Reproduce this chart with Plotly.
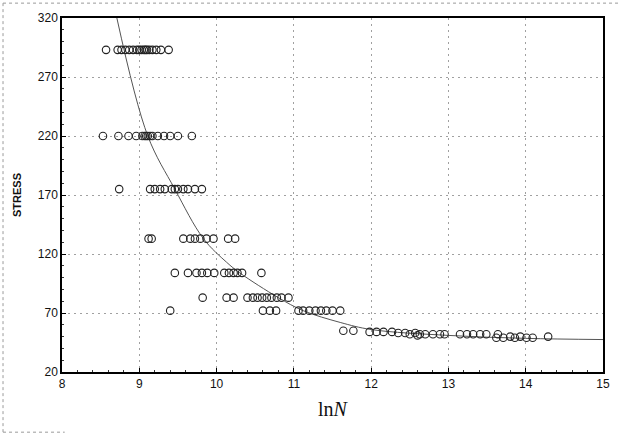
import plotly.graph_objects as go

# ---- data (ln N values grouped by stress level) ----
stress_levels = [293, 220, 175, 133, 104, 83, 72]
ln_n_293 = [8.57, 8.72, 8.77, 8.82, 8.87, 8.92, 8.97, 9.00, 9.03, 9.06, 9.08, 9.10, 9.13, 9.17, 9.22, 9.28, 9.38]
ln_n_220 = [8.53, 8.73, 8.86, 8.96, 9.04, 9.07, 9.09, 9.11, 9.14, 9.17, 9.24, 9.32, 9.40, 9.50, 9.68]
ln_n_175 = [8.74, 9.14, 9.20, 9.27, 9.33, 9.42, 9.46, 9.50, 9.57, 9.63, 9.72, 9.81]
ln_n_133 = [9.12, 9.16, 9.57, 9.66, 9.72, 9.79, 9.87, 9.96, 10.15, 10.24]
ln_n_104 = [9.46, 9.63, 9.74, 9.81, 9.88, 9.97, 10.10, 10.16, 10.22, 10.27, 10.33, 10.58]
ln_n_83 = [9.82, 10.13, 10.22, 10.40, 10.47, 10.53, 10.59, 10.65, 10.71, 10.78, 10.84, 10.93]
ln_n_72 = [9.40, 10.60, 10.69, 10.77, 11.06, 11.12, 11.20, 11.28, 11.35, 11.42, 11.50, 11.60]

# low-stress tail: (ln N, stress) pairs
tail_ln_n = [11.64, 11.77, 11.98, 12.07, 12.16, 12.27, 12.35, 12.44, 12.50, 12.57, 12.60, 12.63,
             12.70, 12.80, 12.89, 12.95, 13.15, 13.24, 13.32, 13.41, 13.49, 13.64, 13.62, 13.71,
             13.80, 13.86, 13.93, 14.01, 14.09, 14.29]
tail_stress = [55, 55, 54, 54, 54, 54, 53, 53, 52, 53, 51, 52,
               52, 52, 52, 52, 52, 52, 52, 52, 52, 52, 49, 49,
               50, 49, 50, 49, 49, 50]

# fitted curve, points
curve_ln_n = [8.71, 9.11, 9.46, 9.83, 10.13, 10.30, 10.80, 11.12, 11.60, 12.0, 13.0, 14.0, 15.0]
curve_stress = [320, 220, 175, 133, 113, 104, 83, 72, 62, 56, 51, 48.5, 47.5]

x_ticks = [8, 9, 10, 11, 12, 13, 14, 15]
y_ticks = [20, 70, 120, 170, 220, 270, 320]

# ---- assemble ----
rows = [ln_n_293, ln_n_220, ln_n_175, ln_n_133, ln_n_104, ln_n_83, ln_n_72]
xs, ys = [], []
for lvl, row in zip(stress_levels, rows):
    xs.extend(row)
    ys.extend([lvl] * len(row))
xs.extend(tail_ln_n)
ys.extend(tail_stress)

fig = go.Figure()
fig.add_trace(go.Scatter(
    x=curve_ln_n, y=curve_stress, mode="lines",
    line=dict(color="#555555", width=1, shape="spline", smoothing=1.0),
    hoverinfo="skip", showlegend=False))
fig.add_trace(go.Scatter(
    x=xs, y=ys, mode="markers",
    marker=dict(symbol="circle-open", size=7.5, color="#222222", line=dict(width=1.1, color="#222222")),
    showlegend=False))

tick_font = dict(family="Liberation Sans Narrow, Liberation Sans, Arial", size=12, color="#111111")
grid_dash = "2px,4px"

fig.update_xaxes(
    range=[8, 15], tickvals=x_ticks, ticktext=[str(v) for v in x_ticks],
    showgrid=True, gridcolor="#a0a0a0", griddash=grid_dash, gridwidth=1,
    showline=True, linecolor="black", linewidth=1.5, mirror=True,
    ticks="inside", ticklen=4, tickcolor="black",
    minor=dict(ticks="inside", ticklen=2, dtick=0.2, tickcolor="#333333", showgrid=False),
    zeroline=False, tickfont=tick_font,
    title=dict(text="ln<i>N</i>", font=dict(family="Liberation Serif, Times New Roman, serif", size=20, color="#111111"), standoff=12),
)
fig.update_yaxes(
    range=[20, 320], tickvals=y_ticks, ticktext=[str(v) for v in y_ticks],
    showgrid=True, gridcolor="#a0a0a0", griddash=grid_dash, gridwidth=1,
    showline=True, linecolor="black", linewidth=1.5, mirror=True,
    ticks="inside", ticklen=4, tickcolor="black",
    minor=dict(ticks="inside", ticklen=2, dtick=10, tickcolor="#333333", showgrid=False),
    zeroline=False, tickfont=tick_font,
    title=dict(text="<b>STRESS</b>", font=dict(family="Liberation Sans, Arial", size=11, color="#111111"), standoff=14),
)

# dotted frame remnants around the picture
frame = dict(color="#9a9a9a", width=1, dash="dot")
fig.add_shape(type="line", xref="paper", yref="paper", x0=-0.109, x1=1.04, y0=1.042, y1=1.042, line=frame)
fig.add_shape(type="line", xref="paper", yref="paper", x0=-0.109, x1=-0.109, y0=1.042, y1=-0.17, line=frame)
fig.add_shape(type="line", xref="paper", yref="paper", x0=-0.109, x1=0.005, y0=-0.17, y1=-0.17, line=frame)

fig.update_layout(
    width=620, height=439,
    margin=dict(l=62, r=17, t=18, b=67, autoexpand=False),
    paper_bgcolor="white", plot_bgcolor="white",
    showlegend=False,
)

fig.write_html("out.html", config={"displayModeBar": False},
               post_script="document.body.style.margin='0';")
